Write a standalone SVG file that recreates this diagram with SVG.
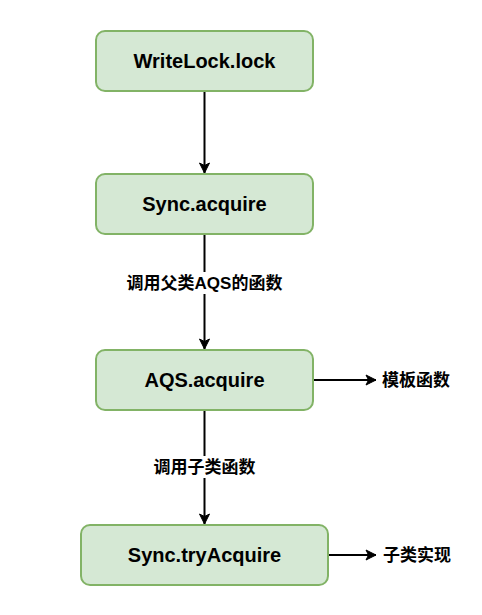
<svg xmlns="http://www.w3.org/2000/svg" width="482" height="615" viewBox="0 0 482 615">
<defs>
<marker id="arr" markerWidth="12" markerHeight="12" refX="11" refY="6" orient="auto" markerUnits="userSpaceOnUse">
<path d="M1,1 L11,6 L1,11 L3.5,6 Z" fill="#000" stroke="#000" stroke-width="1"/>
</marker>
<style>
.box{fill:#d5e8d4;stroke:#82b366;stroke-width:2}
.nt{font-family:"Liberation Sans","Noto Sans CJK SC",sans-serif;font-weight:bold;font-size:20px;fill:#000;text-anchor:middle;dominant-baseline:central}
.lt{font-family:"Liberation Sans","Noto Sans CJK SC",sans-serif;font-weight:bold;font-size:17px;fill:#000;dominant-baseline:central}
.ln{stroke:#000;stroke-width:2;fill:none;marker-end:url(#arr)}
</style>
</defs>
<rect width="482" height="615" fill="#fff"/>
<g id="connectors">
<path class="ln" d="M204.5,91 L204.5,173"/>
<path class="ln" d="M204.5,235 L204.5,349"/>
<path class="ln" d="M204.5,411 L204.5,524"/>
<path class="ln" d="M313,380 L376,380"/>
<path class="ln" d="M328,555 L376,555"/>
<rect x="122" y="272" width="165" height="22" fill="#fff"/>
<text class="lt" x="204.5" y="283" text-anchor="middle">调用父类AQS的函数</text>
<rect x="150" y="456" width="109" height="22" fill="#fff"/>
<text class="lt" x="204.5" y="467" text-anchor="middle">调用子类函数</text>
<text class="lt" x="382" y="380">模板函数</text>
<text class="lt" x="383" y="555">子类实现</text>
</g>
<g id="n1"><rect class="box" x="96" y="31" width="217" height="60" rx="9"/><text class="nt" x="204.5" y="61">WriteLock.lock</text></g>
<g id="n2"><rect class="box" x="96" y="174" width="217" height="60" rx="9"/><text class="nt" x="204.5" y="204">Sync.acquire</text></g>
<g id="n3"><rect class="box" x="96" y="350" width="217" height="60" rx="9"/><text class="nt" x="204.5" y="380">AQS.acquire</text></g>
<g id="n4"><rect class="box" x="81" y="525" width="247" height="60" rx="9"/><text class="nt" x="204.5" y="555">Sync.tryAcquire</text></g>
</svg>
